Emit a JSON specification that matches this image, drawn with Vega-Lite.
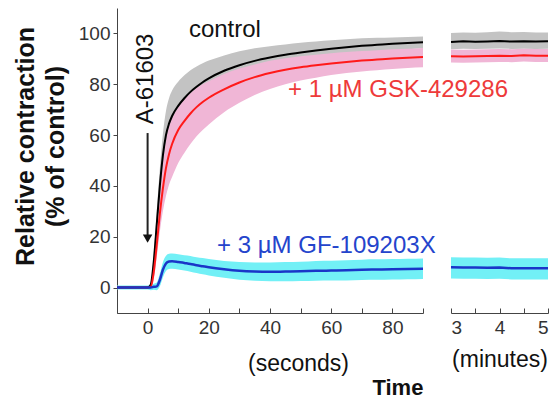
{
  "$schema": "https://vega.github.io/schema/vega-lite/v6.json",
  "padding": {"left": 13, "top": 8, "right": 5, "bottom": 5},
  "background": "white",
  "bounds": "flush",
  "spacing": 28,
  "config": {
    "view": {"stroke": null},
    "font": "Liberation Sans",
    "axis": {"grid": false, "domainColor": "#444", "tickColor": "#444", "labelColor": "#333", "labelFont": "Liberation Sans", "titleFont": "Liberation Sans", "labelFontSize": 19, "domainWidth": 1, "tickWidth": 1, "titleColor": "#111"}
  },
  "datasets": {
    "sec": [
      {"t": -10, "c": 0, "clo": -0.6, "chi": 0.6, "g": 0, "glo": -0.6, "ghi": 0.6, "b": 0, "blo": -0.8, "bhi": 0.8},
      {"t": -5, "c": 0, "clo": -0.6, "chi": 0.6, "g": 0, "glo": -0.6, "ghi": 0.6, "b": 0, "blo": -0.8, "bhi": 0.8},
      {"t": 0, "c": 0, "clo": -0.6, "chi": 0.6, "g": 0, "glo": -0.6, "ghi": 0.6, "b": 0, "blo": -0.8, "bhi": 0.8},
      {"t": 1, "c": 1, "clo": 0, "chi": 2, "g": 0.3, "glo": -0.7, "ghi": 1.3, "b": 0, "blo": -1, "bhi": 1},
      {"t": 2, "c": 10, "clo": 7, "chi": 13, "g": 6, "glo": 3, "ghi": 9, "b": 0.3, "blo": -0.9, "bhi": 1.5},
      {"t": 3, "c": 25, "clo": 20, "chi": 30, "g": 17, "glo": 12, "ghi": 22, "b": 0.5, "blo": -1, "bhi": 2},
      {"t": 4, "c": 40, "clo": 33, "chi": 47, "g": 29, "glo": 22, "ghi": 37, "b": 3, "blo": 0.5, "bhi": 5.5},
      {"t": 5, "c": 52, "clo": 43.5, "chi": 60.5, "g": 39, "glo": 30, "ghi": 49, "b": 7, "blo": 4, "bhi": 10},
      {"t": 6, "c": 60, "clo": 50.5, "chi": 69.5, "g": 47, "glo": 36, "ghi": 58, "b": 9.5, "blo": 6.5, "bhi": 12.5},
      {"t": 7, "c": 64.5, "clo": 54.5, "chi": 74.5, "g": 52.5, "glo": 40.5, "ghi": 63.5, "b": 10.3, "blo": 7.3, "bhi": 13.3},
      {"t": 8, "c": 67.5, "clo": 57.5, "chi": 77.5, "g": 56.5, "glo": 43.5, "ghi": 66.5, "b": 10.4, "blo": 7.4, "bhi": 13.4},
      {"t": 10, "c": 71.5, "clo": 62, "chi": 81, "g": 62, "glo": 49, "ghi": 71, "b": 10.1, "blo": 7.1, "bhi": 13.1},
      {"t": 12, "c": 74.5, "clo": 65.5, "chi": 83.5, "g": 65.5, "glo": 53, "ghi": 74, "b": 9.7, "blo": 6.7, "bhi": 12.7},
      {"t": 14, "c": 77, "clo": 68.5, "chi": 85.5, "g": 68.5, "glo": 56.5, "ghi": 76.5, "b": 9.3, "blo": 6.2, "bhi": 12.4},
      {"t": 16, "c": 79, "clo": 71, "chi": 87, "g": 71, "glo": 59.5, "ghi": 78.5, "b": 8.8, "blo": 5.7, "bhi": 11.9},
      {"t": 18, "c": 80.8, "clo": 73.3, "chi": 88.3, "g": 73, "glo": 62, "ghi": 80, "b": 8.4, "blo": 5.2, "bhi": 11.6},
      {"t": 20, "c": 82.3, "clo": 75.3, "chi": 89.3, "g": 74.7, "glo": 64.2, "ghi": 81.2, "b": 8, "blo": 4.8, "bhi": 11.2},
      {"t": 25, "c": 85.3, "clo": 79.3, "chi": 91.3, "g": 78, "glo": 69, "ghi": 84, "b": 7.2, "blo": 3.9, "bhi": 10.5},
      {"t": 30, "c": 87.5, "clo": 82, "chi": 93, "g": 80.7, "glo": 72.7, "ghi": 86.2, "b": 6.6, "blo": 3.1, "bhi": 10.1},
      {"t": 35, "c": 89.2, "clo": 84.2, "chi": 94.2, "g": 82.8, "glo": 75.8, "ghi": 87.8, "b": 6.3, "blo": 2.7, "bhi": 9.9},
      {"t": 40, "c": 90.5, "clo": 86, "chi": 95, "g": 84.4, "glo": 78.1, "ghi": 89.2, "b": 6.2, "blo": 2.5, "bhi": 9.9},
      {"t": 45, "c": 91.6, "clo": 87.6, "chi": 95.6, "g": 85.7, "glo": 80, "ghi": 90.2, "b": 6.3, "blo": 2.5, "bhi": 10.1},
      {"t": 50, "c": 92.5, "clo": 88.7, "chi": 96.3, "g": 86.7, "glo": 81.5, "ghi": 91, "b": 6.4, "blo": 2.6, "bhi": 10.2},
      {"t": 55, "c": 93.3, "clo": 89.8, "chi": 96.8, "g": 87.5, "glo": 82.6, "ghi": 91.6, "b": 6.6, "blo": 2.7, "bhi": 10.5},
      {"t": 60, "c": 94, "clo": 90.7, "chi": 97.3, "g": 88.2, "glo": 83.6, "ghi": 92.2, "b": 6.7, "blo": 2.8, "bhi": 10.6},
      {"t": 65, "c": 94.6, "clo": 91.5, "chi": 97.7, "g": 88.8, "glo": 84.4, "ghi": 92.7, "b": 6.8, "blo": 2.8, "bhi": 10.8},
      {"t": 70, "c": 95.1, "clo": 92.1, "chi": 98.1, "g": 89.3, "glo": 85, "ghi": 93.1, "b": 7, "blo": 3, "bhi": 11},
      {"t": 75, "c": 95.5, "clo": 92.7, "chi": 98.3, "g": 89.7, "glo": 85.5, "ghi": 93.4, "b": 7.1, "blo": 3.1, "bhi": 11.1},
      {"t": 80, "c": 95.9, "clo": 93.4, "chi": 98.4, "g": 90.1, "glo": 86, "ghi": 93.8, "b": 7.2, "blo": 3.2, "bhi": 11.2},
      {"t": 85, "c": 96.2, "clo": 93.8, "chi": 98.6, "g": 90.4, "glo": 86.4, "ghi": 94, "b": 7.3, "blo": 3.3, "bhi": 11.3},
      {"t": 90, "c": 96.5, "clo": 94.2, "chi": 98.8, "g": 90.7, "glo": 86.7, "ghi": 94.3, "b": 7.4, "blo": 3.4, "bhi": 11.4}
    ],
    "min": [
      {"m": 3, "c": 96.6, "clo": 93.8, "chi": 100.2, "g": 91.0, "glo": 88.6, "ghi": 93.7, "b": 8.0, "blo": 3.6, "bhi": 11.9},
      {"m": 3.25, "c": 96.9, "clo": 94.0, "chi": 100.4, "g": 90.9, "glo": 88.5, "ghi": 93.6, "b": 7.9, "blo": 3.5, "bhi": 11.8},
      {"m": 3.5, "c": 96.7, "clo": 93.9, "chi": 100.3, "g": 91.0, "glo": 88.6, "ghi": 93.7, "b": 7.9, "blo": 3.5, "bhi": 11.8},
      {"m": 3.75, "c": 96.8, "clo": 94.0, "chi": 100.5, "g": 91.1, "glo": 88.7, "ghi": 93.8, "b": 7.8, "blo": 3.4, "bhi": 11.7},
      {"m": 4, "c": 97.0, "clo": 94.1, "chi": 100.8, "g": 91.2, "glo": 88.8, "ghi": 93.9, "b": 7.9, "blo": 3.5, "bhi": 11.8},
      {"m": 4.25, "c": 96.8, "clo": 93.9, "chi": 100.5, "g": 91.1, "glo": 88.7, "ghi": 93.8, "b": 7.6, "blo": 3.2, "bhi": 11.5},
      {"m": 4.5, "c": 96.9, "clo": 94.0, "chi": 100.6, "g": 91.4, "glo": 89.0, "ghi": 94.0, "b": 7.6, "blo": 3.2, "bhi": 11.5},
      {"m": 4.75, "c": 96.8, "clo": 93.9, "chi": 100.4, "g": 91.2, "glo": 88.8, "ghi": 93.9, "b": 7.6, "blo": 3.2, "bhi": 11.5},
      {"m": 5, "c": 96.9, "clo": 94.0, "chi": 100.4, "g": 91.2, "glo": 88.8, "ghi": 93.9, "b": 7.6, "blo": 3.2, "bhi": 11.5}
    ]
  },
  "hconcat": [
    {
      "width": 306,
      "height": 305,
      "data": {"name": "sec"},
      "encoding": {
        "x": {"field": "t", "type": "quantitative", "scale": {"domain": [-10, 90], "nice": false, "zero": false},
          "axis": {"values": [-10, 0, 10, 20, 30, 40, 50, 60, 70, 80, 90], "labelExpr": "datum.value >= 0 && datum.value % 20 == 0 ? datum.label : ''", "tickSize": -5, "labelPadding": 10, "title": "(seconds)", "titleFontSize": 23, "titleFontWeight": "normal", "titleX": 181, "titleY": 57, "titleBaseline": "alphabetic", "titleAlign": "center"}}
      },
      "layer": [
        {"mark": {"type": "area", "color": "#c3c3c3", "opacity": 1, "interpolate": "monotone"},
          "encoding": {"y": {"field": "clo", "type": "quantitative", "scale": {"domain": [-10, 110], "nice": false, "zero": false},
            "axis": {"values": [0, 10, 20, 30, 40, 50, 60, 70, 80, 90, 100, 110], "labelExpr": "datum.value % 20 == 0 && datum.value <= 100 ? datum.label : ''", "tickSize": 4, "labelPadding": 3, "title": ["Relative contraction", "(% of control)"], "titleFontSize": 25, "titleFontWeight": "bold", "titleLineHeight": 30, "titleBaseline": "alphabetic", "titleAngle": 270, "titleAlign": "center", "titleX": -84, "titleY": 138}},
            "y2": {"field": "chi"}}},
        {"mark": {"type": "area", "color": "#f0b6d6", "opacity": 1, "interpolate": "monotone"},
          "encoding": {"y": {"field": "glo", "type": "quantitative"}, "y2": {"field": "ghi"}}},
        {"mark": {"type": "area", "color": "#72f0f6", "opacity": 1, "interpolate": "monotone"},
          "encoding": {"y": {"field": "blo", "type": "quantitative"}, "y2": {"field": "bhi"}}},
        {"mark": {"type": "line", "color": "#000000", "strokeWidth": 2, "interpolate": "monotone"},
          "encoding": {"y": {"field": "c", "type": "quantitative"}}},
        {"mark": {"type": "line", "color": "#ff1a1a", "strokeWidth": 2, "interpolate": "monotone"},
          "encoding": {"y": {"field": "g", "type": "quantitative"}}},
        {"mark": {"type": "line", "color": "#1a35c8", "strokeWidth": 2.5, "interpolate": "monotone"},
          "encoding": {"y": {"field": "b", "type": "quantitative"}}},
        {"data": {"values": [{"t": 0, "v": 60.8, "v2": 20.5}]},
          "mark": {"type": "rule", "color": "#222222", "strokeWidth": 2},
          "encoding": {"y": {"field": "v", "type": "quantitative"}, "y2": {"field": "v2"}}},
        {"data": {"values": [{"t": 0, "v": 19.3}]},
          "mark": {"type": "point", "shape": "triangle-down", "filled": true, "color": "#111111", "size": 90, "opacity": 1},
          "encoding": {"y": {"field": "v", "type": "quantitative"}}},
        {"data": {"values": [{"t": 1.8, "v": 82.1, "label": "A-61603"}]},
          "mark": {"type": "text", "angle": 270, "align": "center", "baseline": "alphabetic", "fontSize": 24, "color": "#111111", "font": "Liberation Sans"},
          "encoding": {"y": {"field": "v", "type": "quantitative"}, "text": {"field": "label"}}},
        {"data": {"values": [{"t": 13.5, "v": 98.6, "label": "control"}]},
          "mark": {"type": "text", "align": "left", "baseline": "alphabetic", "fontSize": 24, "color": "#111111", "font": "Liberation Sans"},
          "encoding": {"y": {"field": "v", "type": "quantitative"}, "text": {"field": "label"}}},
        {"data": {"values": [{"t": 45.9, "v": 75, "label": "+ 1 µM GSK-429286"}]},
          "mark": {"type": "text", "align": "left", "baseline": "alphabetic", "fontSize": 24, "color": "#ee3a3a", "font": "Liberation Sans"},
          "encoding": {"y": {"field": "v", "type": "quantitative"}, "text": {"field": "label"}}},
        {"data": {"values": [{"t": 22.7, "v": 13.6, "label": "+ 3 µM GF-109203X"}]},
          "mark": {"type": "text", "align": "left", "baseline": "alphabetic", "fontSize": 24, "color": "#2444cc", "font": "Liberation Sans"},
          "encoding": {"y": {"field": "v", "type": "quantitative"}, "text": {"field": "label"}}},
        {"data": {"values": [{"t": 81.8, "v": -42.3, "label": "Time"}]},
          "mark": {"type": "text", "align": "center", "baseline": "alphabetic", "fontSize": 22, "fontWeight": "bold", "color": "#111111", "font": "Liberation Sans"},
          "encoding": {"y": {"field": "v", "type": "quantitative"}, "text": {"field": "label"}}}
      ]
    },
    {
      "width": 97,
      "height": 305,
      "data": {"name": "min"},
      "encoding": {
        "x": {"field": "m", "type": "quantitative", "scale": {"domain": [3, 5], "nice": false, "zero": false},
          "axis": {"values": [3, 3.5, 4, 4.5, 5], "labelExpr": "datum.value % 1 == 0 ? format(datum.value, 'd') : ''", "tickSize": -5, "labelPadding": 10, "title": "(minutes)", "titleFontSize": 23, "titleFontWeight": "normal", "titleX": 48.5, "titleY": 53, "titleBaseline": "alphabetic", "titleAlign": "center"}}
      },
      "layer": [
        {"mark": {"type": "area", "color": "#c3c3c3", "opacity": 1},
          "encoding": {"y": {"field": "clo", "type": "quantitative", "scale": {"domain": [-10, 110], "nice": false, "zero": false}, "axis": null}, "y2": {"field": "chi"}}},
        {"mark": {"type": "area", "color": "#f0b6d6", "opacity": 1},
          "encoding": {"y": {"field": "glo", "type": "quantitative", "axis": null}, "y2": {"field": "ghi"}}},
        {"mark": {"type": "area", "color": "#72f0f6", "opacity": 1},
          "encoding": {"y": {"field": "blo", "type": "quantitative", "axis": null}, "y2": {"field": "bhi"}}},
        {"mark": {"type": "line", "color": "#000000", "strokeWidth": 2},
          "encoding": {"y": {"field": "c", "type": "quantitative", "axis": null}}},
        {"mark": {"type": "line", "color": "#ff1a1a", "strokeWidth": 2},
          "encoding": {"y": {"field": "g", "type": "quantitative", "axis": null}}},
        {"mark": {"type": "line", "color": "#1a35c8", "strokeWidth": 2.5},
          "encoding": {"y": {"field": "b", "type": "quantitative", "axis": null}}}
      ]
    }
  ]
}
